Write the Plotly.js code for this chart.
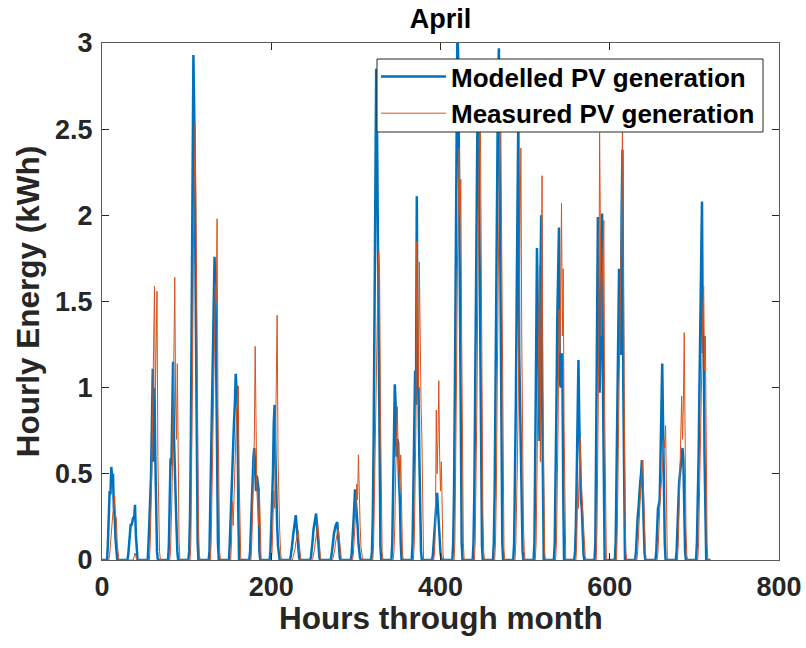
<!DOCTYPE html>
<html>
<head>
<meta charset="utf-8">
<script src="https://cdn.plot.ly/plotly-3.0.1.min.js"></script>
<style>html,body{margin:0;padding:0;background:#fff;}#chart{width:806px;height:648px;}</style>
</head>
<body>
<div id="chart"></div>
<script>
// ---- Data ----
const hoursInMonth = 720;            // April, 30 days x 24 h
const modelledFirstHour = 6;         // first hour of day covered by each daily row below
const measuredFirstHour = 8;

// Modelled PV generation (kWh), one row per day, hours 6..18
const modelledByDay = [
  [0,0.1,0.3,0.4,0.38,0.54,0.48,0.5,0.3,0.25,0.12,0.05,0],
  [0,0.03,0.1,0.18,0.21,0.2,0.23,0.25,0.24,0.32,0.15,0.04,0],
  [0,0.1,0.3,0.36,0.5,0.8,1.11,0.57,1.0,0.6,0.25,0.05,0],
  [0,0.08,0.3,0.59,0.55,0.9,1.15,0.72,0.5,0.45,0.2,0.05,0],
  [0,0.05,0.25,0.7,1.4,2.2,2.93,2.6,1.9,1.1,0.45,0.1,0],
  [0,0.05,0.3,0.7,1.0,1.19,1.3,1.76,1.6,1.0,0.45,0.1,0],
  [0,0.1,0.25,0.33,0.5,0.75,0.8,0.9,1.08,1.0,1.01,0.3,0],
  [0,0.05,0.2,0.35,0.5,0.6,0.65,0.55,0.4,0.49,0.45,0.41,0.05],
  [0,0.05,0.2,0.35,0.5,0.8,0.9,0.6,0.3,0.2,0.08,0.02,0],
  [0,0.02,0.05,0.1,0.15,0.19,0.22,0.26,0.2,0.12,0.05,0.01,0],
  [0,0.02,0.06,0.12,0.18,0.22,0.25,0.27,0.2,0.12,0.05,0.01,0],
  [0,0.02,0.05,0.1,0.15,0.18,0.2,0.21,0.22,0.15,0.06,0.01,0],
  [0,0.03,0.1,0.2,0.3,0.41,0.35,0.3,0.2,0.1,0.04,0.01,0],
  [0,0.05,0.25,0.7,1.4,2.2,2.85,2.5,1.8,1.0,0.4,0.08,0],
  [0,0.1,0.35,0.7,1.02,0.9,0.6,0.7,0.68,0.45,0.35,0.1,0],
  [0,0.1,0.4,0.95,1.1,0.9,2.11,1.01,1.0,0.6,0.3,0.05,0],
  [0,0.03,0.1,0.2,0.3,0.32,0.39,0.3,0.2,0.1,0.04,0.01,0],
  [0,0.1,0.4,1.0,1.8,2.6,3.1,2.9,2.2,1.3,0.5,0.1,0],
  [0,0.1,0.4,1.0,1.7,2.4,2.75,2.5,1.9,1.1,0.4,0.08,0],
  [0,0.1,0.4,1.0,1.7,2.4,2.8,2.97,2.3,1.3,0.5,0.1,0],
  [0,0.1,0.4,0.9,1.5,2.1,2.6,1.2,0.9,0.6,0.2,0.05,0],
  [0,0.1,0.5,1.2,1.81,1.5,1.2,0.69,1.6,2.0,1.0,0.18,0],
  [0,0.1,0.4,0.9,1.4,1.7,1.93,1.04,1.0,1.2,1.16,0.4,0],
  [0,0.05,0.2,0.5,0.8,1.16,0.8,0.47,0.35,0.3,0.15,0.03,0],
  [0,0.1,0.6,1.3,1.99,1.5,0.97,1.2,1.5,2.01,1.0,0.3,0],
  [0,0.1,0.5,1.0,1.4,1.69,1.5,1.19,2.0,2.38,1.0,0.2,0],
  [0,0.05,0.2,0.25,0.3,0.4,0.45,0.5,0.58,0.4,0.2,0.05,0],
  [0,0.05,0.2,0.3,0.32,0.35,0.6,1.0,1.14,0.79,0.4,0.1,0],
  [0,0.05,0.2,0.35,0.45,0.5,0.55,0.6,0.65,0.58,0.3,0.05,0],
  [0,0.1,0.3,0.6,1.0,1.3,1.6,2.08,1.2,1.3,0.6,0.2,0]
];

// Measured PV generation (kWh), one row per day, hours 8..20
const measuredByDay = [
  [0,0.03,0.1,0.2,0.25,0.28,0.3,0.37,0.26,0.24,0.1,0.03,0],
  [0,0,0,0,0,0,0.02,0.04,0.02,0,0,0,0],
  [0,0.1,0.3,0.55,0.9,1.2,1.59,0.95,1.3,1.56,0.6,0.27,0.05],
  [0,0.05,0.2,0.45,0.8,1.2,1.64,0.9,0.7,1.14,0.45,0.12,0],
  [0,0.1,0.5,1.1,1.8,2.3,2.53,2.1,1.4,0.7,0.2,0.03,0],
  [0,0.1,0.4,0.8,1.1,1.3,1.6,1.5,1.98,0.9,0.3,0.05,0],
  [0,0.1,0.34,0.2,0.4,0.6,0.7,0.85,0.9,1.01,0.5,0.1,0],
  [0,0.1,0.3,0.5,0.7,1.24,0.6,0.4,0.3,0.2,0.4,0.1,0],
  [0,0.05,0.2,0.4,0.3,0.6,0.9,1.42,0.6,0.3,0.17,0.05,0],
  [0,0,0.02,0.04,0.06,0.1,0.13,0.16,0.17,0.1,0.03,0,0],
  [0,0.01,0.03,0.06,0.1,0.14,0.18,0.21,0.16,0.08,0.02,0,0],
  [0,0.01,0.03,0.06,0.1,0.13,0.16,0.18,0.15,0.08,0.02,0,0],
  [0,0.03,0.1,0.2,0.3,0.44,0.35,0.61,0.35,0.2,0.08,0.01,0],
  [0,0.1,0.4,0.8,1.2,1.5,1.6,1.79,1.69,0.9,0.35,0.05,0],
  [0,0.05,0.2,0.5,0.7,0.89,0.6,0.5,0.4,0.61,0.3,0.05,0],
  [0,0.1,0.4,0.8,1.85,1.2,1.0,1.73,1.1,0.9,0.71,0.2,0],
  [0,0.05,0.2,0.87,0.5,0.7,1.04,0.6,0.4,0.57,0.2,0.03,0],
  [0,0.1,0.5,1.1,1.7,2.1,2.39,2.0,2.21,1.3,0.5,0.1,0],
  [0,0.1,0.4,0.9,1.5,2.1,2.5,2.65,1.8,0.9,0.3,0.05,0],
  [0,0.1,0.4,1.0,1.6,2.2,2.5,2.7,2.0,1.1,0.4,0.06,0],
  [0,0.1,0.3,0.6,1.0,1.6,2.0,2.39,1.3,0.5,0.2,0.05,0],
  [0,0.1,0.5,1.0,1.5,1.71,0.57,1.3,2.23,1.0,0.3,0.05,0],
  [0,0.1,0.4,0.8,1.45,1.2,1.5,2.07,1.3,1.69,0.8,0.2,0],
  [0,0.1,0.47,0.3,0.5,0.71,0.5,0.35,0.3,0.2,0.1,0.02,0],
  [0,0.2,0.7,1.2,2.48,1.5,1.3,1.6,1.8,1.97,0.85,0.3,0],
  [0,0.2,0.79,1.0,1.3,1.6,2.0,2.55,1.5,0.9,0.3,0.05,0],
  [0,0.05,0.15,0.3,0.41,0.45,0.5,0.58,0.4,0.2,0.05,0,0],
  [0,0.05,0.2,0.3,0.4,0.45,0.51,0.6,0.7,0.65,0.78,0.3,0],
  [0,0.1,0.3,0.5,0.81,0.95,0.7,0.9,1.32,0.6,0.2,0.03,0],
  [0,0.1,0.4,0.7,1.0,1.3,1.45,1.59,1.1,1.3,0.6,0.1,0]
];

const xTickValues = [0, 200, 400, 600, 800];
const yTickValues = [0, 0.5, 1, 1.5, 2, 2.5, 3];
const yTickLabels = ['0', '0.5', '1', '1.5', '2', '2.5', '3'];

// ---- Build hourly series (night hours are zero) ----
function hourlySeries(byDay, firstHour) {
  const y = new Array(hoursInMonth).fill(0);
  byDay.forEach((row, d) => row.forEach((v, i) => { y[24 * d + firstHour + i] = v; }));
  return y;
}
const hours = Array.from({length: hoursInMonth}, (_, i) => i);
const modelled = hourlySeries(modelledByDay, modelledFirstHour);
const measured = hourlySeries(measuredByDay, measuredFirstHour);

const FONT = 'Liberation Sans, Arial, Helvetica, sans-serif';
const TXT = '#262626';

// plot area in pixels: x 102..779, y 43..560
const L = 102, R = 779, T = 43, B = 560;
const px = v => (v - L) / (R - L);
const py = v => (B - v) / (B - T);

const traces = [
  {x: hours, y: modelled, type: 'scatter', mode: 'lines', name: 'Modelled PV generation',
   line: {color: '#0072BD', width: 2.5}},
  {x: hours, y: measured, type: 'scatter', mode: 'lines', name: 'Measured PV generation',
   line: {color: '#D95319', width: 1}}
];

const axisCommon = {
  ticks: 'inside', ticklen: 7, tickwidth: 1, tickcolor: '#262626',
  showline: true, linecolor: '#5a5a5a', linewidth: 1, mirror: 'ticks',
  showgrid: false, zeroline: false, ticklabelstandoff: 3,
  tickfont: {family: FONT, size: 27, weight: 'bold', color: TXT}
};

const layout = {
  width: 806, height: 648,
  paper_bgcolor: '#fff', plot_bgcolor: '#fff',
  margin: {l: L, r: 806 - R, t: T, b: 648 - B, pad: 0},
  showlegend: true,
  font: {family: FONT, color: '#000'},
  title: {text: 'April', font: {family: FONT, size: 27, weight: 'bold', color: '#000'},
          x: 0.5, xref: 'paper', y: 1 - 19 / 648, yref: 'container', yanchor: 'middle'},
  xaxis: Object.assign({}, axisCommon, {
    range: [0, 800], tickvals: xTickValues, ticktext: xTickValues.map(String)
  }),
  yaxis: Object.assign({}, axisCommon, {
    range: [0, 3], tickvals: yTickValues, ticktext: yTickLabels,
    title: {text: 'Hourly Energy (kWh)', font: {family: FONT, size: 31.5, weight: 'bold', color: TXT}, standoff: 6}
  }),
  annotations: [
    // x-axis title, placed just under the tick labels as in the reference
    {text: 'Hours through month', xref: 'paper', yref: 'paper', x: 0.5, y: py(618),
     xanchor: 'center', yanchor: 'middle', showarrow: false,
     font: {family: FONT, size: 31.5, weight: 'bold', color: TXT}}
  ],
  legend: {
    x: px(376), xanchor: 'left', xref: 'paper',
    y: py(53), yanchor: 'top', yref: 'paper',
    bgcolor: 'rgba(0,0,0,0)', borderwidth: 0,
    font: {family: FONT, size: 26, weight: 'bold', color: '#000'},
    itemwidth: 65, tracegroupgap: 0
  },
  shapes: [
    // opaque legend box (legend entries are drawn on top of it)
    {type: 'rect', xref: 'paper', yref: 'paper', layer: 'above',
     x0: px(377), x1: px(763), y0: py(132), y1: py(59),
     fillcolor: '#ffffff', line: {color: '#262626', width: 1}}
  ]
};

Plotly.newPlot('chart', traces, layout, {staticPlot: true, displayModeBar: false});
</script>
</body>
</html>
